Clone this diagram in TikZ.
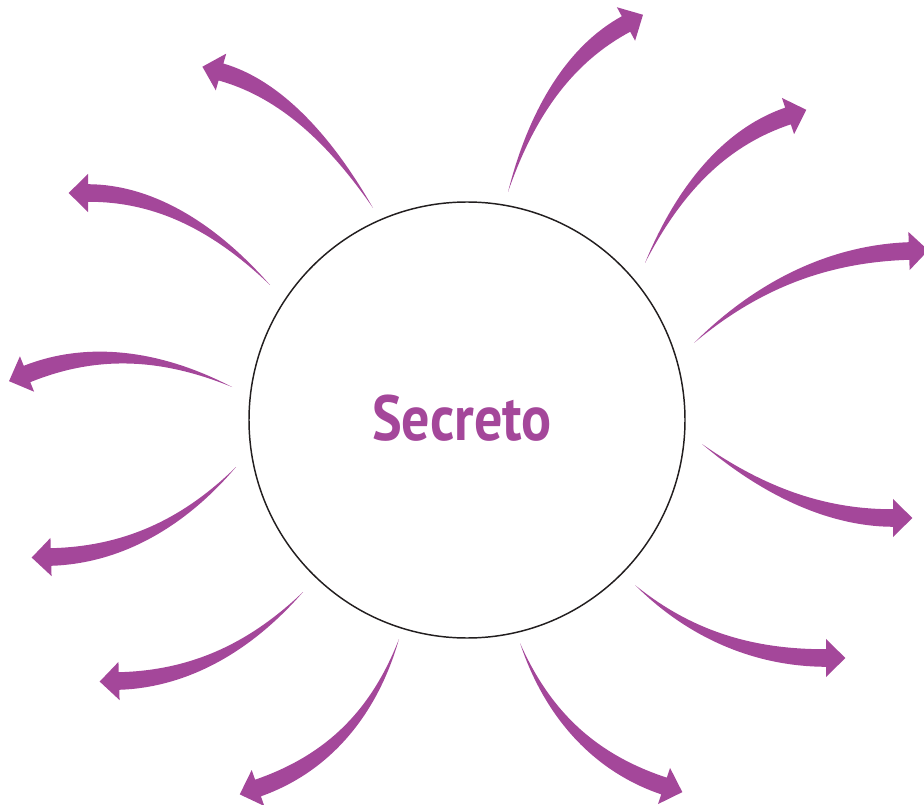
\documentclass[tikz,border=0pt]{standalone}
\usepackage{fontspec}
\usepackage{graphicx}
\newfontfamily\labelfont{PT Sans}
\usetikzlibrary{calc}
\definecolor{arrowpurple}{RGB}{164,71,154}
\definecolor{ringgray}{RGB}{34,30,31}
\tikzset{
  arrowfill/.style={fill=arrowpurple, draw=none},
  ring/.style={circle, draw=ringgray, line width=1.1pt, minimum size=327pt, inner sep=0pt},
  centrelabel/.style={text=arrowpurple, inner sep=0pt, font=\labelfont\bfseries\fontsize{42}{46}\selectfont}
}
% #1 start (thin end), #2 bend point, #3 head base centre
\newcommand\taperarrow[3]{%
  \path (#1) coordinate (tS) (#2) coordinate (tC) (#3) coordinate (tE);
  \path ($(tS)!0.667!(tC)$) coordinate (tC1) ($(tE)!0.667!(tC)$) coordinate (tC2);
  \path ($(tE)!6.6pt!90:(tC)$) coordinate (tEL) ($(tE)!6.6pt!-90:(tC)$) coordinate (tER);
  \path ($(tC2)!6.4pt!90:(tC)$) coordinate (tC2L) ($(tC2)!6.4pt!-90:(tC)$) coordinate (tC2R);
  \path ($(tC1)!2.8pt!-90:(tC)$) coordinate (tC1L) ($(tC1)!2.8pt!90:(tC)$) coordinate (tC1R);
  \path ($(tE)!14.3pt!90:(tC)$) coordinate (tHL) ($(tE)!14.3pt!-90:(tC)$) coordinate (tHR);
  \path ($(tE)!-14.5pt!(tC)$) coordinate (tT);
  \fill[arrowfill] (tS) .. controls (tC1L) and (tC2L) .. (tEL) -- (tHL) -- (tT) -- (tHR) -- (tER)
     .. controls (tC2R) and (tC1R) .. (tS) -- cycle;
}
\begin{document}
\begin{tikzpicture}[x=0.75pt,y=-0.75pt]
\useasboundingbox (0,0) rectangle (924,805);
\node[ring] (c) at (467,420) {};
\node[centrelabel] (t) at (462,418) {\scalebox{1}[1.14]{Secreto}};
% right side
\taperarrow{508,192}{545,68}{626,24}
\taperarrow{645,263}{699,146}{788,116}
\taperarrow{694,343}{790,255}{909,251}
\taperarrow{702,444}{798,518}{893,518}
\taperarrow{635,585}{716,658}{826,658}
\taperarrow{520,643}{562,752}{664,786}
% left side
\taperarrow{373,208}{302,95}{221,72}
\taperarrow{270,285}{182,193}{88,193}
\taperarrow{232,387}{122,336}{27,374}
\taperarrow{236,467}{155,554}{51,557}
\taperarrow{303,592}{221,678}{119,681}
\taperarrow{399,639}{361,752}{258,788}
\end{tikzpicture}
\end{document}
